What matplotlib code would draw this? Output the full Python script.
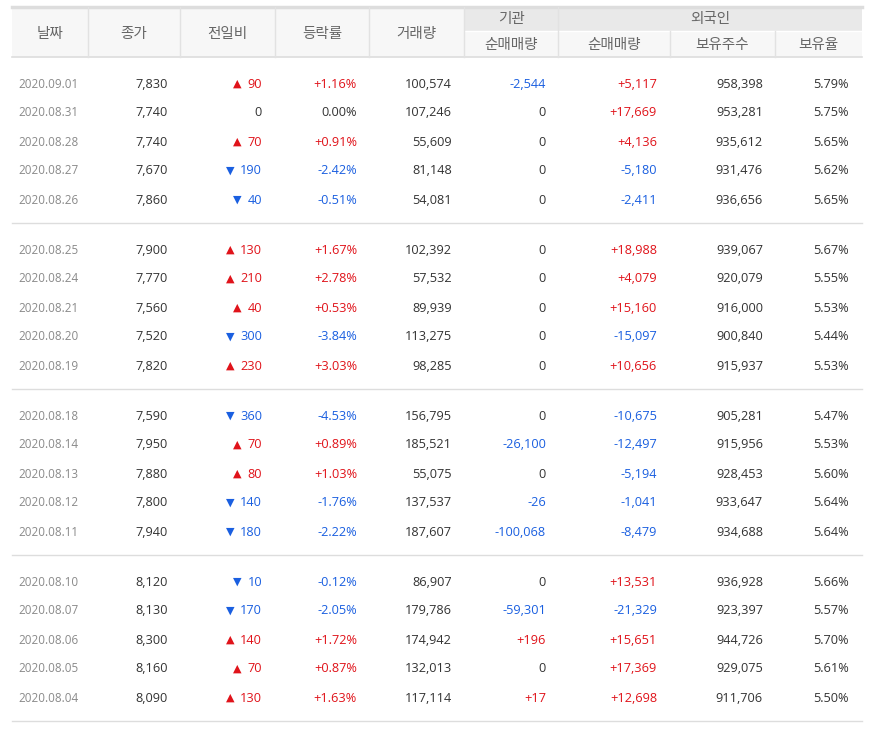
import matplotlib
matplotlib.use("Agg")
import matplotlib.pyplot as plt

dates = ["2020.09.01","2020.08.31","2020.08.28","2020.08.27","2020.08.26",
         "2020.08.25","2020.08.24","2020.08.21","2020.08.20","2020.08.19",
         "2020.08.18","2020.08.14","2020.08.13","2020.08.12","2020.08.11",
         "2020.08.10","2020.08.07","2020.08.06","2020.08.05","2020.08.04"]
close = [7830,7740,7740,7670,7860,7900,7770,7560,7520,7820,7590,7950,7880,7800,7940,8120,8130,8300,8160,8090]
change = [90,0,70,-190,-40,130,210,40,-300,230,-360,70,80,-140,-180,-10,-170,140,70,130]
rate = [1.16,0.00,0.91,-2.42,-0.51,1.67,2.78,0.53,-3.84,3.03,-4.53,0.89,1.03,-1.76,-2.22,-0.12,-2.05,1.72,0.87,1.63]
volume = [100574,107246,55609,81148,54081,102392,57532,89939,113275,98285,156795,185521,55075,137537,187607,86907,179786,174942,132013,117114]
inst_net = [-2544,0,0,0,0,0,0,0,0,0,0,-26100,0,-26,-100068,0,-59301,196,0,17]
frgn_net = [5117,17669,4136,-5180,-2411,18988,4079,15160,-15097,10656,-10675,-12497,-5194,-1041,-8479,13531,-21329,15651,17369,12698]
frgn_hold = [958398,953281,935612,931476,936656,939067,920079,916000,900840,915937,905281,915956,928453,933647,934688,936928,923397,944726,929075,911706]
frgn_ratio = [5.79,5.75,5.65,5.62,5.65,5.67,5.55,5.53,5.44,5.53,5.47,5.53,5.60,5.64,5.64,5.66,5.57,5.70,5.61,5.50]

headers = ["날짜","종가","전일비","등락률","거래량"]
sub_inst = ["순매매량"]
sub_frgn = ["순매매량","보유주수","보유율"]

FAM = ["Noto Sans CJK KR", "DejaVu Sans"]
NUM = ["Open Sans", "DejaVu Sans"]
RED, BLUE, DARK, GRAY = "#e0131a", "#1a5fe0", "#333333", "#8a8a8a"

fig = plt.figure(figsize=(8.81, 7.36), dpi=100)
ax = fig.add_axes([0, 0, 1, 1])
ax.set_xlim(0, 881); ax.set_ylim(736, 0); ax.axis("off")

L, R = 12, 862
seps = [88, 180, 275, 369, 464, 558, 670, 775]
ax.add_patch(plt.Rectangle((L, 7), R - L, 50, color="#f7f7f7", lw=0))
ax.add_patch(plt.Rectangle((464, 7), R - 464, 24, color="#e9e9e9", lw=0))
ax.plot([L, R], [7, 7], color="#dddddd", lw=2.5)
ax.plot([L, R], [57, 57], color="#dddddd", lw=1.2)
ax.plot([464, R], [31, 31], color="#ffffff", lw=1)
for s in seps:
    top = 31 if s in (670, 775) else 7
    ax.plot([s, s], [top, 57], color="#e2e2e2", lw=1)
hx = [50, 134, 227, 322, 416]
for x, h in zip(hx, headers):
    ax.text(x, 34, h, ha="center", va="center", fontsize=10.5, color="#666666", family=FAM)
ax.text(511, 19, "기관", ha="center", va="center", fontsize=10.5, color="#666666", family=FAM)
ax.text(710, 19, "외국인", ha="center", va="center", fontsize=10.5, color="#666666", family=FAM)
for x, h in zip([511, 614, 722, 818], sub_inst + sub_frgn):
    ax.text(x, 45, h, ha="center", va="center", fontsize=10.5, color="#666666", family=FAM)

def col(v):
    return RED if v > 0 else (BLUE if v < 0 else DARK)

fs = 9.2
for i in range(len(dates)):
    g = i // 5
    y = 84 + g * 166 + (i % 5) * 29
    ax.text(18, y, dates[i], ha="left", va="center", fontsize=8.4, color=GRAY, family=NUM)
    ax.text(168, y, f"{close[i]:,}", ha="right", va="center", fontsize=fs, color=DARK, family=NUM)
    c = change[i]
    if c == 0:
        ax.text(262, y, "0", ha="right", va="center", fontsize=fs, color=DARK, family=NUM)
    else:
        ax.text(262, y, f"{abs(c)}", ha="right", va="center", fontsize=fs, color=col(c), family=NUM)
        nd = len(str(abs(c)))
        ax.text(262 - nd * 7.3 - 6, y, "▲" if c > 0 else "▼", ha="right", va="center",
                fontsize=8, color=col(c), family=["DejaVu Sans"])
    r = rate[i]
    ax.text(357, y, (f"+{r:.2f}%" if r > 0 else f"{r:.2f}%"), ha="right", va="center", fontsize=fs, color=col(r), family=NUM)
    ax.text(452, y, f"{volume[i]:,}", ha="right", va="center", fontsize=fs, color=DARK, family=NUM)
    v = inst_net[i]
    ax.text(546, y, (f"+{v:,}" if v > 0 else f"{v:,}"), ha="right", va="center", fontsize=fs, color=col(v), family=NUM)
    v = frgn_net[i]
    ax.text(657, y, (f"+{v:,}" if v > 0 else f"{v:,}"), ha="right", va="center", fontsize=fs, color=col(v), family=NUM)
    ax.text(763, y, f"{frgn_hold[i]:,}", ha="right", va="center", fontsize=fs, color=DARK, family=NUM)
    ax.text(849, y, f"{frgn_ratio[i]:.2f}%", ha="right", va="center", fontsize=fs, color=DARK, family=NUM)

for yy in [223, 389, 555, 721]:
    ax.plot([L, R], [yy, yy], color="#dddddd", lw=1)

fig.savefig("out.png", dpi=100, facecolor="white")
